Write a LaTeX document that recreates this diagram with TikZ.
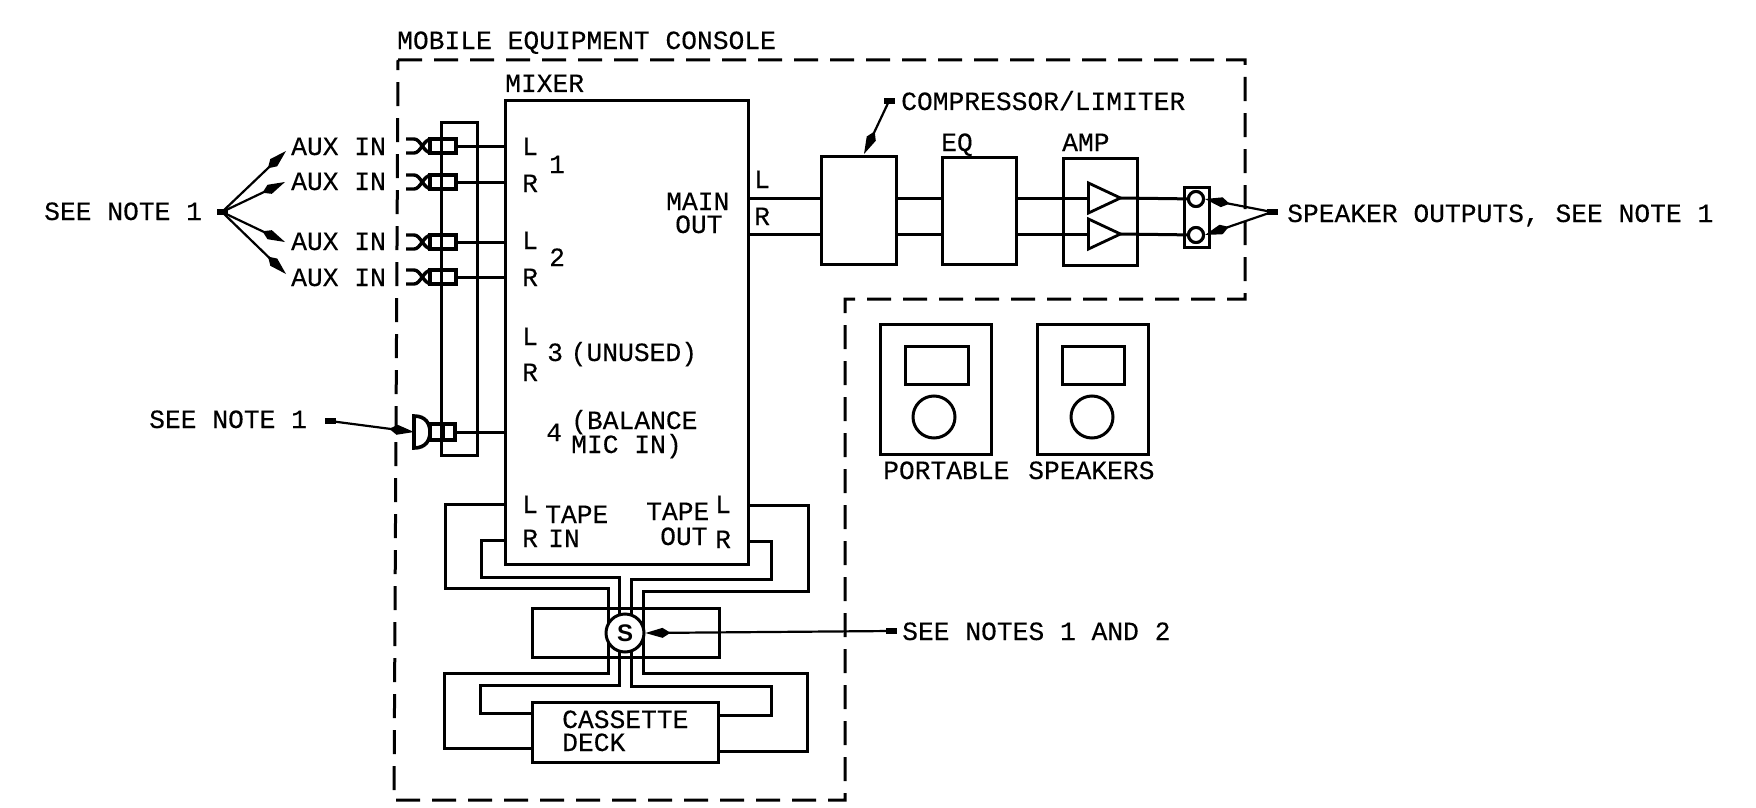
\documentclass[tikz,border=0pt]{standalone}
\usepackage{fontspec}
\setmainfont[FakeBold=0.25]{Liberation Mono}
\newfontfamily\sfontb{Liberation Sans}
\usetikzlibrary{arrows.meta,shapes.geometric,calc}
\tikzset{
  x=1pt,y=-1pt,
  wire/.style={line width=3pt,line join=miter},
  boxn/.style={draw,line width=3pt,inner sep=0pt,outer sep=0pt,fill=white,shape=rectangle},
  dashb/.style={line width=3pt,dash pattern=on 24pt off 12pt},
  lead/.style={line width=2.2pt,-{Kite[length=25pt,width=10pt,inset=8pt]}},
  hubn/.style={fill=black,inner sep=0pt,minimum width=11pt,minimum height=6pt,shape=rectangle},
  txt/.style={anchor=base west,inner sep=0pt,font=\fontsize{26.3pt}{26.3pt}\selectfont},
  circn/.style={draw,circle,line width=3pt,inner sep=0pt,fill=white},
  tri/.style={draw,isosceles triangle,isosceles triangle stretches,line width=2.8pt,inner sep=0pt,outer sep=0pt,minimum width=30pt,minimum height=32pt,fill=white},
  auxplug/.pic={
    \draw[line width=3.4pt] (0,-7) -- (8,-7) .. controls (15,-7) and (17,7) .. (26,7);
    \draw[line width=3.4pt] (0,7) -- (8,7) .. controls (15,7) and (17,-7) .. (26,-7);
    \draw[line width=3.2pt] (24,-7) rectangle (50,7);
    \coordinate (-e) at (50,0);
  },
  micplug/.pic={
    \draw[line width=3.6pt] (0,-16) .. controls (12,-16) and (16,-8) .. (16,0) .. controls (16,8) and (12,16) .. (0,16) -- cycle;
    \draw[line width=3.2pt] (16,-8) rectangle (41,8);
    \draw[line width=3.2pt] (29,-8) -- (29,8);
    \coordinate (-e) at (41,0);
    \coordinate (-w) at (0,0);
  },
}
\begin{document}
\begin{tikzpicture}
\useasboundingbox[fill=white] (0,0) rectangle (1756,808);
% console outline
\draw[dashb] (398,60) -- (1245,60) -- (1245,299) -- (845,299) -- (845,800) -- (394,800) -- cycle;
% rail and mixer
\node[boxn,fill=none,minimum width=36pt,minimum height=333pt] (rail) at (459,288.5) {};
\node[boxn,minimum width=243pt,minimum height=464pt] (mixer) at (626.5,332) {};
% plugs
\pic (p1) at (406,146) {auxplug};
\pic (p2) at (406,182) {auxplug};
\pic (p3) at (406,242) {auxplug};
\pic (p4) at (406,277) {auxplug};
\pic (p5) at (414,432) {micplug};
\foreach \p in {p1,p2,p3,p4,p5}{\draw[wire] (\p-e) -- (\p-e -| mixer.west);}
% chain
\node[boxn,minimum width=75pt,minimum height=108pt] (comp) at (858.5,210) {};
\node[boxn,minimum width=74pt,minimum height=107pt] (eq) at (979,210.5) {};
\node[boxn,minimum width=74pt,minimum height=107pt] (amp) at (1100,211.5) {};
\node[boxn,minimum width=25pt,minimum height=60pt] (term) at (1196.5,217) {};
\coordinate (yl) at (0,198);
\coordinate (yr) at (0,234);
\draw[wire] (mixer.east |- yl) -- (comp.west |- yl);
\draw[wire] (mixer.east |- yr) -- (comp.west |- yr);
\draw[wire] (comp.east |- yl) -- (eq.west |- yl);
\draw[wire] (comp.east |- yr) -- (eq.west |- yr);
\draw[wire] (eq.east |- yl) -- (amp.west |- yl);
\draw[wire] (eq.east |- yr) -- (amp.west |- yr);
\node[tri] (t1) at (1098,198) {};
\node[tri] (t2) at (1098,234) {};
\node[circn,minimum size=15pt] (c1) at (1196,199) {};
\node[circn,minimum size=15pt] (c2) at (1196,235) {};
\draw[wire] (amp.west |- t1) -- (t1.west);
\draw[wire] (amp.west |- t2) -- (t2.west);
\draw[wire] (t1.east) -- (c1);
\draw[wire] (t2.east) -- (c2);
\node[circn,minimum size=15pt] at (c1) {};
\node[circn,minimum size=15pt] at (c2) {};
% tape wiring
\node[boxn,fill=none,minimum width=187pt,minimum height=49pt] (sw) at (625.5,632.5) {};
\node[boxn,minimum width=186pt,minimum height=60pt] (deck) at (625,732) {};
\coordinate (sc) at (625,633);
\draw[wire] (mixer.west |- 0,504) -- (445,504) -- (445,588) -- (608,588) -- (608,673) -- (444,673) -- (444,748) -- (deck.west |- 0,748);
\draw[wire] (mixer.west |- 0,540) -- (481,540) -- (481,577) -- (619,577) -- (619,685) -- (480,685) -- (480,713) -- (deck.west |- 0,713);
\draw[wire] (mixer.east |- 0,541) -- (771,541) -- (771,579) -- (631,579) -- (631,686) -- (771,686) -- (771,715) -- (deck.east |- 0,715);
\draw[wire] (mixer.east |- 0,505) -- (808,505) -- (808,591) -- (643,591) -- (643,673) -- (807,673) -- (807,751) -- (deck.east |- 0,751);
\node[circn,minimum size=38pt,font=\sfontb\bfseries\fontsize{24pt}{24pt}\selectfont] (s) at (sc) {S};
% speakers
\node[boxn,minimum width=111pt,minimum height=130pt] (spk1) at (935.5,389) {};
\node[boxn,minimum width=63pt,minimum height=38pt] (spk1a) at (936.5,365) {};
\node[circn,minimum size=42pt] (spk1b) at (934,417) {};
\node[boxn,minimum width=111pt,minimum height=130pt] (spk2) at (1092.5,389.5) {};
\node[boxn,minimum width=62pt,minimum height=38pt] (spk2a) at (1093,365) {};
\node[circn,minimum size=42pt] (spk2b) at (1092,417) {};
% leads
\node[hubn] (h1) at (222,212) {};
\coordinate (a1) at (286,151);
\coordinate (a2) at (285,182);
\coordinate (a3) at (285,242);
\coordinate (a4) at (286,274);
\foreach \a in {a1,a2,a3,a4}{\draw[lead] (h1.center) -- (\a);}
\node[hubn] (h2) at (330,421) {};
\draw[lead] (h2.center) -- (p5-w);
\node[hubn] (h3) at (1272,212) {};
\draw[lead] (h3.center) -- (c1.east);
\draw[lead] (h3.center) -- (c2.east);
\node[hubn] (h4) at (889,101) {};
\draw[lead] (h4.center) -- (864,154);
\node[hubn] (h5) at (891,631) {};
\draw[lead] (h5.center) -- (s.east);
% labels
\node[txt] (t01) at (397,49) {MOBILE EQUIPMENT CONSOLE};
\node[txt] (t02) at (505,92) {MIXER};
\node[txt] (t03) at (901,110) {COMPRESSOR/LIMITER};
\node[txt] (t04) at (941,151) {EQ};
\node[txt] (t05) at (1062,151) {AMP};
\node[txt] (t06) at (44,220) {SEE NOTE 1};
\node[txt] (t07) at (149,428) {SEE NOTE 1};
\node[txt] (t08) at (291,155) {AUX IN};
\node[txt] (t09) at (291,190) {AUX IN};
\node[txt] (t10) at (291,250) {AUX IN};
\node[txt] (t11) at (291,286) {AUX IN};
\node[txt] (t12) at (1287,222) {SPEAKER OUTPUTS, SEE NOTE 1};
\node[txt] (t13) at (902,640) {SEE NOTES 1 AND 2};
\node[txt] (t14) at (883,479) {PORTABLE};
\node[txt] (t15) at (1028,479) {SPEAKERS};
\node[txt] (t16) at (562,728) {CASSETTE};
\node[txt] (t17) at (562,751) {DECK};
\node[txt] (t18) at (522,155) {L};
\node[txt] (t19) at (522,192) {R};
\node[txt] (t20) at (549,173) {1};
\node[txt] (t21) at (522,249) {L};
\node[txt] (t22) at (522,286) {R};
\node[txt] (t23) at (549,266) {2};
\node[txt] (t24) at (522,345) {L};
\node[txt] (t25) at (522,381) {R};
\node[txt] (t26) at (547,361) {3\hspace{-8pt} (UNUSED)};
\node[txt] (t27) at (546,441) {4};
\node[txt] (t28) at (571,429) {(BALANCE};
\node[txt] (t29) at (571,453) {MIC IN)};
\node[txt] (t30) at (522,513) {L};
\node[txt] (t31) at (522,547) {R};
\node[txt] (t32) at (545,523) {TAPE};
\node[txt] (t33) at (548,547) {IN};
\node[txt] (t34) at (646,520) {TAPE};
\node[txt] (t35) at (660,545) {OUT};
\node[txt] (t36) at (715,513) {L};
\node[txt] (t37) at (715,548) {R};
\node[txt] (t38) at (666,210) {MAIN};
\node[txt] (t39) at (675,233) {OUT};
\node[txt] (t40) at (754,188) {L};
\node[txt] (t41) at (754,225) {R};
\end{tikzpicture}
\end{document}
